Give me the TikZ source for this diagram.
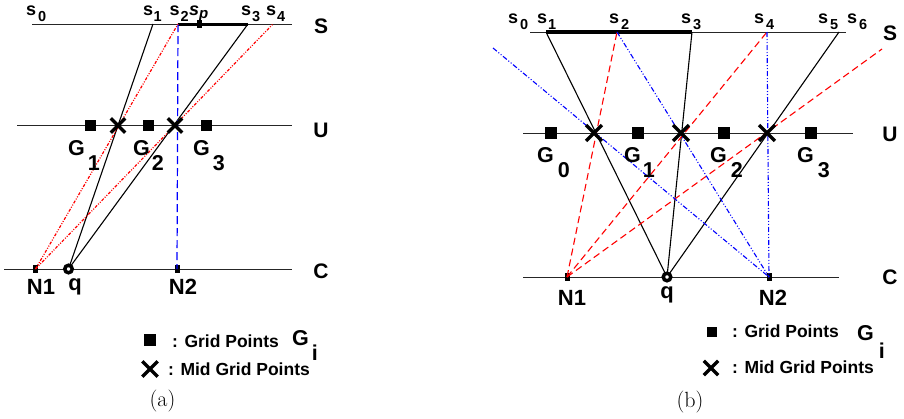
\documentclass[tikz,border=0pt]{standalone}
\usepackage{fontspec}
\newfontfamily\hv{Liberation Sans}
\usetikzlibrary{shapes.misc}
\newcommand\lowr[3]{\hspace{#3}\raisebox{-#2}{#1}}
\begin{document}
\begin{tikzpicture}[x=1pt,y=-1pt,
  bigl/.style={font=\hv\bfseries\fontsize{21}{21}\selectfont, inner sep=0pt},
  gl/.style={font=\hv\bfseries\fontsize{21.5}{21.5}\selectfont, inner sep=0pt, anchor=base west},
  nl/.style={font=\hv\bfseries\fontsize{22}{22}\selectfont, inner sep=0pt, anchor=base},
  sl/.style={font=\hv\bfseries\fontsize{18}{18}\selectfont, inner sep=0pt, anchor=base west},
  leg/.style={font=\hv\bfseries\fontsize{17.5}{17.5}\selectfont, inner sep=0pt, anchor=base west},
  capt/.style={font=\fontsize{22}{22}\selectfont, inner sep=0pt},
  gridpt/.style={rectangle, fill=black, minimum size=11pt, inner sep=0pt},
  midpt/.style={cross out, draw=black, line width=3.4pt, minimum size=11pt, inner sep=0pt},
  npt/.style={rectangle, fill=black, minimum width=5pt, minimum height=8pt, inner sep=0pt},
  qpt/.style={circle, draw=black, fill=white, line width=3.5pt, minimum size=7.5pt, inner sep=0pt},
  axisl/.style={line width=1pt, black!85},
  seg/.style={line width=3pt},
  ray/.style={line width=1.1pt},
  redddot/.style={red, line width=1.2pt, dash pattern=on 3pt off 1.5pt on 1pt off 1.5pt on 1pt off 1.5pt},
  bluedash/.style={blue, line width=1.2pt, dash pattern=on 8pt off 4pt},
  reddash/.style={red, line width=1.1pt, dash pattern=on 7pt off 4pt},
  bluedd/.style={blue, line width=1.1pt, dash pattern=on 5pt off 2pt on 1pt off 2pt on 1pt off 2pt},
]
\useasboundingbox (0,0) rectangle (904,418);

% ================= panel (a) =================
\coordinate (aSl) at (32,24);   \coordinate (aSr) at (292,24);
\coordinate (aUl) at (17,125.5);\coordinate (aUr) at (292,125.5);
\coordinate (aCl) at (4,269);   \coordinate (aCr) at (292,269);
\coordinate (as1) at (153,24);
\coordinate (as2) at (178,24);
\coordinate (as3) at (248,24);
\coordinate (as4) at (273,24);

\draw[axisl] (aSl) -- (aSr);
\draw[axisl] (aUl) -- (aUr);
\draw[axisl] (aCl) -- (aCr);
\draw[seg] (as2) -- (as3);

\node[npt] (asp) at (199,24) {};
\node[npt] (aN1) at (35.5,269) {};
\node[npt] (aN2) at (177,269) {};

\draw[ray] (as1) -- (68.5,269) coordinate (aqc);
\draw[ray] (as3) -- (aqc);
\draw[bluedash] (as2) -- (aN2.center);
\draw[redddot] (aN1.center) -- (as2);
\draw[redddot] (aN1.center) -- (as4);

\node[qpt] (aq) at (aqc) {};
\node[gridpt] (aG1) at (90,125.5) {};
\node[gridpt] (aG2) at (148,125.5) {};
\node[gridpt] (aG3) at (206,125.5) {};
\node[midpt] (aX1) at (118,125.5) {};
\node[midpt] (aX2) at (175,125.5) {};

\node[sl] (las0) at (26,15) {s\lowr{\fontsize{14.5}{14.5}\selectfont 0}{6pt}{2pt}};
\node[sl] (las1) at (143,15) {s\lowr{\fontsize{14.5}{14.5}\selectfont 1}{6pt}{0.5pt}};
\node[sl] (las2) at (169.5,15) {s\lowr{\fontsize{14.5}{14.5}\selectfont 2}{6pt}{1pt}};
\node[sl] (lasp) at (189,15) {\itshape s\lowr{\fontsize{15}{15}\selectfont p}{3pt}{0pt}};
\node[sl] (las3) at (241,15) {s\lowr{\fontsize{14.5}{14.5}\selectfont 3}{6pt}{1pt}};
\node[sl] (las4) at (266,15) {s\lowr{\fontsize{14.5}{14.5}\selectfont 4}{6pt}{1pt}};

\node[bigl] (laS) at (321,26.5) {S};
\node[bigl] (laU) at (321,130) {U};
\node[bigl] (laC) at (321,271) {C};

\node[gl] (laG1) at (68,155.5) {G\lowr{1}{14.5pt}{3pt}};
\node[gl] (laG2) at (133,155.5) {G\lowr{2}{14.5pt}{2pt}};
\node[gl] (laG3) at (193,155.5) {G\lowr{3}{14.5pt}{3pt}};

\node[nl] (laN1) at (41,294) {N1};
\node[nl] (laq) at (75,290) {q};
\node[nl] (laN2) at (183,294) {N2};

\node[gridpt, minimum size=12pt] (alg1) at (150,340) {};
\node[leg] (alt1) at (172,347) {: Grid Points};
\node[gl] (alGi) at (292,345) {G\lowr{i}{15pt}{3pt}};
\node[midpt, minimum size=12pt] (alg2) at (150,369) {};
\node[leg] (alt2) at (168,375) {: Mid Grid Points};
\node[capt] (capa) at (162.5,401) {(a)};

% ================= panel (b) =================
\coordinate (bSl) at (530,32);  \coordinate (bSr) at (846,32);
\coordinate (bUl) at (523,133); \coordinate (bUr) at (853,133);
\coordinate (bCl) at (523,277); \coordinate (bCr) at (839,277);
\coordinate (bs1) at (546,32);
\coordinate (bs2) at (617,32);
\coordinate (bs3) at (692,32);
\coordinate (bs4) at (767,32);
\coordinate (bs5) at (839,32);
\coordinate (bfree1) at (493,48);
\coordinate (bfree2) at (882,49);

\draw[axisl] (bSl) -- (bSr);
\draw[axisl] (bUl) -- (bUr);
\draw[axisl] (bCl) -- (bCr);
\draw[seg, line width=3.5pt] (bs1) -- (bs3);

\node[npt] (bN1) at (567,277) {};
\node[npt] (bN2) at (769,277) {};
\coordinate (bqc) at (667,277);

\draw[ray] (bs1) -- (bqc);
\draw[ray] (bs3) -- (bqc);
\draw[ray] (bs5) -- (bqc);
\draw[reddash] (bN1.center) -- (bs2);
\draw[reddash] (bN1.center) -- (bs4);
\draw[reddash] (bN1.center) -- (bfree2);
\draw[bluedd] (bs2) -- (bN2.center);
\draw[bluedd] (bs4) -- (bN2.center);
\draw[bluedd] (bfree1) -- (bN2.center);

\node[qpt] (bq) at (bqc) {};
\node[gridpt, minimum size=12pt] (bG0) at (551,133) {};
\node[gridpt, minimum size=12pt] (bG1) at (638,133) {};
\node[gridpt, minimum size=12pt] (bG2) at (724,133) {};
\node[gridpt, minimum size=12pt] (bG3) at (811,133) {};
\node[midpt, minimum size=12.5pt] (bX1) at (594,133) {};
\node[midpt, minimum size=12.5pt] (bX2) at (681,133) {};
\node[midpt, minimum size=12.5pt] (bX3) at (767,133) {};

\node[sl] (lbs0) at (508,23) {s\lowr{\fontsize{14.5}{14.5}\selectfont 0}{6pt}{2pt}};
\node[sl] (lbs1) at (537,23) {s\lowr{\fontsize{14.5}{14.5}\selectfont 1}{6pt}{1pt}};
\node[sl] (lbs2) at (609,23) {s\lowr{\fontsize{14.5}{14.5}\selectfont 2}{6pt}{2pt}};
\node[sl] (lbs3) at (681,23) {s\lowr{\fontsize{14.5}{14.5}\selectfont 3}{6pt}{2pt}};
\node[sl] (lbs4) at (754,23) {s\lowr{\fontsize{14.5}{14.5}\selectfont 4}{6pt}{2pt}};
\node[sl] (lbs5) at (818,23) {s\lowr{\fontsize{14.5}{14.5}\selectfont 5}{6pt}{2pt}};
\node[sl] (lbs6) at (847,23) {s\lowr{\fontsize{14.5}{14.5}\selectfont 6}{6pt}{2pt}};

\node[bigl] (lbS) at (890,33) {S};
\node[bigl] (lbU) at (890,134) {U};
\node[bigl] (lbC) at (890,277) {C};

\node[gl] (lbG0) at (537,162.5) {G\lowr{0}{15pt}{4pt}};
\node[gl] (lbG1) at (624,162.5) {G\lowr{1}{15pt}{2pt}};
\node[gl] (lbG2) at (710,162.5) {G\lowr{2}{15pt}{4pt}};
\node[gl] (lbG3) at (797,162.5) {G\lowr{3}{15pt}{4pt}};

\node[nl] (lbN1) at (572,305) {N1};
\node[nl] (lbq) at (667,298) {q};
\node[nl] (lbN2) at (773,305) {N2};

\node[gridpt, minimum size=10pt] (blg1) at (712,332) {};
\node[leg] (blt1) at (732,337) {: Grid Points};
\node[gl] (blGi) at (857,340) {G\lowr{i}{18pt}{5pt}};
\node[midpt, minimum size=11pt] (blg2) at (711,368) {};
\node[leg] (blt2) at (732,373) {: Mid Grid Points};
\node[capt] (capb) at (690,402) {(b)};
\end{tikzpicture}
\end{document}
